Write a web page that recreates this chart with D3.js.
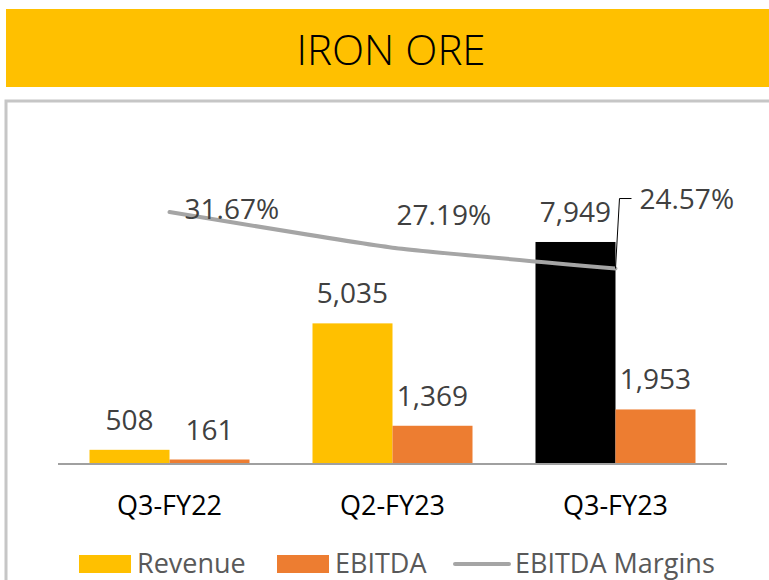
<!DOCTYPE html>
<html>
<head>
<meta charset="utf-8">
<script src="https://cdn.jsdelivr.net/npm/d3@7"></script>
<style>
  body { margin: 0; background: #fff; }
  svg { display: block; font-family: "Open Sans", sans-serif; }
</style>
</head>
<body>
<svg id="chart"></svg>
<script>
// chart values
var quarters = ["Q3-FY22", "Q2-FY23", "Q3-FY23"]
var revenue = [508, 5035, 7949]
var ebitda = [161, 1369, 1953]
var margins = [31.67, 27.19, 24.57]
var revenueColors = ["#FFC000", "#FFC000", "#000000"]
var seriesNames = ["Revenue", "EBITDA", "EBITDA Margins"]

var dimensions = {
    width: 769,
    height: 580,
    baseline: 464,
    left: 58,
    right: 727
}

var svg = d3.select("#chart")
            .attr("width", dimensions.width)
            .attr("height", dimensions.height)

// title bar
svg.append("rect")
   .attr("x", 6).attr("y", 9)
   .attr("width", 770).attr("height", 78)
   .style("fill", "#FFC000")
svg.append("text")
   .attr("x", 391).attr("y", 65)
   .attr("text-anchor", "middle")
   .style("font-size", "42px")
   .style("font-weight", "300")
   .style("fill", "#000")
   .text("IRON ORE")

// chart frame
svg.append("rect")
   .attr("x", 6).attr("y", 101)
   .attr("width", 800).attr("height", 600)
   .style("fill", "none")
   .style("stroke", "#c6c6c6")
   .style("stroke-width", 3)

var xScale = d3.scaleBand()
               .domain(quarters)
               .range([dimensions.left, dimensions.right])
               .paddingInner(0.2825)
               .paddingOuter(0.1413)

var subScale = d3.scaleBand()
                 .domain(["rev", "ebitda"])
                 .range([0, xScale.bandwidth()])

var yScale = d3.scaleLinear()
               .domain([0, 10000])
               .range([dimensions.baseline, dimensions.baseline - 279.3])

var mScale = d3.scaleLinear()
               .domain([20, 35])
               .range([304.9, 185.5])

var cx = q => xScale(q) + xScale.bandwidth() / 2

// revenue bars
svg.append("g")
   .selectAll("rect")
   .data(quarters)
   .enter()
   .append("rect")
   .attr("x", d => xScale(d) + subScale("rev"))
   .attr("y", (d, i) => yScale(revenue[i]))
   .attr("width", subScale.bandwidth())
   .attr("height", (d, i) => dimensions.baseline - yScale(revenue[i]))
   .style("fill", (d, i) => revenueColors[i])

// ebitda bars
svg.append("g")
   .selectAll("rect")
   .data(quarters)
   .enter()
   .append("rect")
   .attr("x", d => xScale(d) + subScale("ebitda"))
   .attr("y", (d, i) => yScale(ebitda[i]))
   .attr("width", subScale.bandwidth())
   .attr("height", (d, i) => dimensions.baseline - yScale(ebitda[i]))
   .style("fill", "#ED7D31")

// axis line
svg.append("line")
   .attr("x1", dimensions.left).attr("x2", dimensions.right)
   .attr("y1", dimensions.baseline).attr("y2", dimensions.baseline)
   .style("stroke", "#a0a0a0")
   .style("stroke-width", 2)

// bar labels
var fmt = d3.format(",")
svg.append("g")
   .selectAll("text")
   .data(quarters)
   .enter()
   .append("text")
   .attr("x", d => xScale(d) + subScale("rev") + subScale.bandwidth() / 2)
   .attr("y", (d, i) => yScale(revenue[i]) - 20)
   .attr("text-anchor", "middle")
   .style("font-size", "28px")
   .style("fill", "#404040")
   .text((d, i) => fmt(revenue[i]))
svg.append("g")
   .selectAll("text")
   .data(quarters)
   .enter()
   .append("text")
   .attr("x", d => xScale(d) + subScale("ebitda") + subScale.bandwidth() / 2)
   .attr("y", (d, i) => yScale(ebitda[i]) - 20)
   .attr("text-anchor", "middle")
   .style("font-size", "28px")
   .style("fill", "#404040")
   .text((d, i) => fmt(ebitda[i]))

// margin line
var line = d3.line()
             .x(d => cx(d.q))
             .y(d => mScale(d.m))
             .curve(d3.curveCardinal.tension(0.6))
var pts = quarters.map((q, i) => ({q: q, m: margins[i]}))
svg.append("path")
   .datum(pts)
   .attr("d", line)
   .style("fill", "none")
   .style("stroke", "#A5A5A5")
   .style("stroke-width", 4)
   .style("stroke-linecap", "round")

// margin labels (offsets from each point)
var mOffsets = [[15, 7], [4, -23], [24, -60]]
svg.append("g")
   .selectAll("text")
   .data(pts)
   .enter()
   .append("text")
   .attr("x", (d, i) => cx(d.q) + mOffsets[i][0])
   .attr("y", (d, i) => mScale(d.m) + mOffsets[i][1])
   .style("font-size", "28px")
   .style("fill", "#404040")
   .text(d => d.m.toFixed(2) + "%")

// leader line for last label
var last = pts[pts.length - 1]
svg.append("polyline")
   .attr("points", [
       [cx(last.q), mScale(last.m)],
       [cx(last.q) + 4, mScale(last.m) - 70],
       [cx(last.q) + 16, mScale(last.m) - 70]
   ].map(p => p.join(",")).join(" "))
   .style("fill", "none")
   .style("stroke", "#000")
   .style("stroke-width", 1)

// category labels
svg.append("g")
   .selectAll("text")
   .data(quarters)
   .enter()
   .append("text")
   .attr("x", d => cx(d))
   .attr("y", 515)
   .attr("text-anchor", "middle")
   .style("font-size", "27px")
   .style("fill", "#000")
   .text(d => d)

// legend
var legend = svg.append("g")
var legendX = [79, 277, 455]
legend.selectAll("rect")
      .data(seriesNames.slice(0, 2))
      .enter()
      .append("rect")
      .attr("x", (d, i) => legendX[i])
      .attr("y", 555)
      .attr("width", 52)
      .attr("height", 18)
      .style("fill", (d, i) => i == 0 ? "#FFC000" : "#ED7D31")
legend.append("line")
      .attr("x1", legendX[2]).attr("x2", legendX[2] + 54)
      .attr("y1", 564).attr("y2", 564)
      .style("stroke", "#A5A5A5")
      .style("stroke-width", 4)
      .style("stroke-linecap", "round")
legend.selectAll("text")
      .data(seriesNames)
      .enter()
      .append("text")
      .attr("x", (d, i) => legendX[i] + (i == 2 ? 60 : 58))
      .attr("y", 573)
      .style("font-size", "27px")
      .style("fill", "#595959")
      .text(d => d)
</script>
</body>
</html>
